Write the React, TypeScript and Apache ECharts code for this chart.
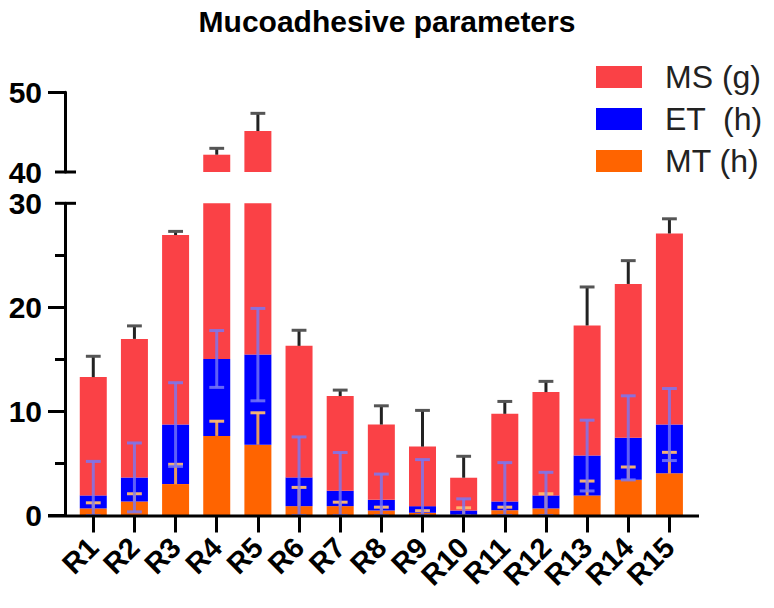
import React, { useEffect, useRef } from "react";
import * as echarts from "echarts";

const categories = ["R1", "R2", "R3", "R4", "R5", "R6", "R7", "R8", "R9", "R10", "R11", "R12", "R13", "R14", "R15"];
// segment heights (stacked: MT at bottom, ET middle, MS top)
const mtValues = [0.68, 1.35, 3.02, 7.65, 6.81, 0.9, 0.9, 0.48, 0.26, 0.08, 0.51, 0.68, 1.93, 3.44, 4.05];
const etValues = [1.25, 2.31, 5.72, 7.39, 8.65, 2.76, 1.48, 1.03, 0.64, 0.4, 0.84, 1.25, 3.83, 4.02, 4.69];
const msValues = [11.37, 13.31, 18.21, 27.13, 29.68, 12.64, 9.1, 7.23, 5.72, 3.15, 8.42, 9.93, 12.5, 14.79, 18.36];
// error bar sizes
const mtErrors = [0.54, 0.74, 1.9, 1.41, 3.06, 1.8, 0.38, 0.32, 0.2, 0.66, 0.29, 1.41, 1.38, 1.22, 2.02];
const etErrors = [3.27, 3.31, 4.02, 2.73, 4.44, 3.89, 3.67, 2.47, 4.47, 1.12, 3.73, 2.22, 3.4, 4.04, 3.46];
const msErrors = [2.0, 1.25, 0.35, 0.8, 2.22, 1.5, 0.57, 1.8, 3.48, 2.06, 1.19, 1.03, 3.7, 2.24, 1.41];
const lowerTicks = [0, 10, 20, 30];
const upperTicks = [40, 50];

const MS_NAME = "MS (g)";
const ET_NAME = "ET  (h)";
const MT_NAME = "MT (h)";
const FONT = "Arial, 'Liberation Sans', sans-serif";

export default function App() {
  const ref = useRef<HTMLDivElement>(null);
  useEffect(() => {
    document.body.style.margin = "0";
    const chart = echarts.init(ref.current!, undefined, { renderer: "svg" });

    const mtTop = mtValues.map((v) => v);
    const etTop = etValues.map((v, i) => v + mtTop[i]);
    const msTop = msValues.map((v, i) => v + etTop[i]);

    const errItems = (tops: number[], errs: number[], twoSided: boolean, lo: number, hi: number) =>
      tops
        .map((t, i) => [i, t, twoSided ? Math.max(0, t - errs[i]) : t, t + errs[i]])
        .filter((d) => d[1] >= lo && d[1] <= hi);

    const makeErr = (
      data: number[][],
      color: string,
      capColor: string,
      twoSided: boolean,
      xi: number,
      yi: number,
      width: number
    ) => ({
      type: "custom",
      xAxisIndex: xi,
      yAxisIndex: yi,
      z: 5,
      data,
      renderItem: (params: any, api: any) => {
        const x = api.value(0);
        const low = api.value(2);
        const high = api.value(3);
        const pHigh = api.coord([x, high]);
        const pLow = api.coord([x, low]);
        const half = api.size([1, 0])[0] * 0.18;
        const children: any[] = [
          { type: "line", shape: { x1: pHigh[0], y1: pHigh[1], x2: pLow[0], y2: pLow[1] }, style: { stroke: color, lineWidth: width } },
          { type: "line", shape: { x1: pHigh[0] - half, y1: pHigh[1], x2: pHigh[0] + half, y2: pHigh[1] }, style: { stroke: capColor, lineWidth: 3 } },
        ];
        if (twoSided) {
          children.push({ type: "line", shape: { x1: pLow[0] - half, y1: pLow[1], x2: pLow[0] + half, y2: pLow[1] }, style: { stroke: capColor, lineWidth: 3 } });
        }
        return { type: "group", children };
      },
    });

    const barSeries = (xi: number, yi: number, stack: string) => [
      { name: MT_NAME, type: "bar", stack, xAxisIndex: xi, yAxisIndex: yi, data: mtValues, barWidth: 27, itemStyle: { color: "#FF6400" } },
      { name: ET_NAME, type: "bar", stack, xAxisIndex: xi, yAxisIndex: yi, data: etValues, barWidth: 27, itemStyle: { color: "#0000FF" } },
      { name: MS_NAME, type: "bar", stack, xAxisIndex: xi, yAxisIndex: yi, data: msValues, barWidth: 27, itemStyle: { color: "#FA4146" } },
    ];

    const gridLeft = 72.7;
    const gridRight = 84;

    const option: any = {
      animation: false,
      backgroundColor: "#fff",
      title: {
        text: "Mucoadhesive parameters",
        left: "center",
        top: 1,
        textStyle: { fontFamily: FONT, fontSize: 30, fontWeight: "bold", color: "#000" },
      },
      legend: {
        data: [MS_NAME, ET_NAME, MT_NAME],
        orient: "vertical",
        left: 591,
        top: 56,
        itemWidth: 46,
        itemHeight: 22,
        itemGap: 10,
        icon: "rect",
        textStyle: { fontFamily: FONT, fontSize: 32, color: "#222", lineHeight: 32, padding: [0, 0, 0, 18] },
      },
      grid: [
        { left: gridLeft, right: gridRight, top: 92.3, height: 79.7 },
        { left: gridLeft, right: gridRight, top: 203.3, height: 312.2 },
      ],
      xAxis: [
        { type: "category", gridIndex: 0, data: categories, show: false },
        {
          type: "category",
          gridIndex: 1,
          data: categories,
          axisLine: { show: false },
          axisTick: { show: true, alignWithLabel: true, length: 17, lineStyle: { color: "#000", width: 3 } },
          axisLabel: { interval: 0, rotate: 45, margin: 27, fontFamily: FONT, fontSize: 29, fontWeight: "bold", color: "#000" },
        },
      ],
      yAxis: [
        {
          type: "value",
          gridIndex: 0,
          min: upperTicks[0],
          max: upperTicks[1],
          interval: 10,
          offset: 7.7,
          splitLine: { show: false },
          axisLine: { show: true, lineStyle: { color: "#000", width: 3 } },
          axisTick: { show: true, length: 17, lineStyle: { color: "#000", width: 3 }, customValues: [50] },
          axisLabel: { margin: 23, fontFamily: FONT, fontSize: 30, fontWeight: "bold", color: "#000" },
        },
        {
          type: "value",
          gridIndex: 1,
          min: lowerTicks[0],
          max: lowerTicks[3],
          interval: 10,
          offset: 7.7,
          splitLine: { show: false },
          axisLine: { show: true, lineStyle: { color: "#000", width: 3 } },
          axisTick: { show: true, length: 17, lineStyle: { color: "#000", width: 3 }, customValues: [0, 10, 20] },
          minorTick: { show: true, splitNumber: 2, length: 10, lineStyle: { color: "#000", width: 3 } },
          axisLabel: { margin: 23, fontFamily: FONT, fontSize: 30, fontWeight: "bold", color: "#000" },
        },
      ],
      graphic: [
        { type: "line", z: 10, shape: { x1: 48, y1: 516, x2: 699, y2: 516 }, style: { stroke: "#000", lineWidth: 3 } },
        { type: "line", z: 10, shape: { x1: 55, y1: 203.3, x2: 76, y2: 203.3 }, style: { stroke: "#000", lineWidth: 3 } },
        { type: "line", z: 10, shape: { x1: 55, y1: 172, x2: 76, y2: 172 }, style: { stroke: "#000", lineWidth: 3 } },
      ],
      series: [
        ...barSeries(0, 0, "up"),
        ...barSeries(1, 1, "low"),
        makeErr(errItems(mtTop, mtErrors, false, 0, 30), "rgba(255,170,80,0.9)", "rgba(255,185,110,0.95)", false, 1, 1, 3),
        makeErr(errItems(etTop, etErrors, true, 0, 30), "rgba(120,120,245,0.8)", "rgba(120,120,245,0.85)", true, 1, 1, 3),
        makeErr(errItems(msTop, msErrors, false, 0, 30), "#222", "#555", false, 1, 1, 3),
        makeErr(errItems(msTop, msErrors, false, 40, 50), "#222", "#555", false, 0, 0, 3),
      ],
    };
    chart.setOption(option);
    return () => chart.dispose();
  }, []);
  return <div ref={ref} style={{ width: 774, height: 608 }} />;
}
